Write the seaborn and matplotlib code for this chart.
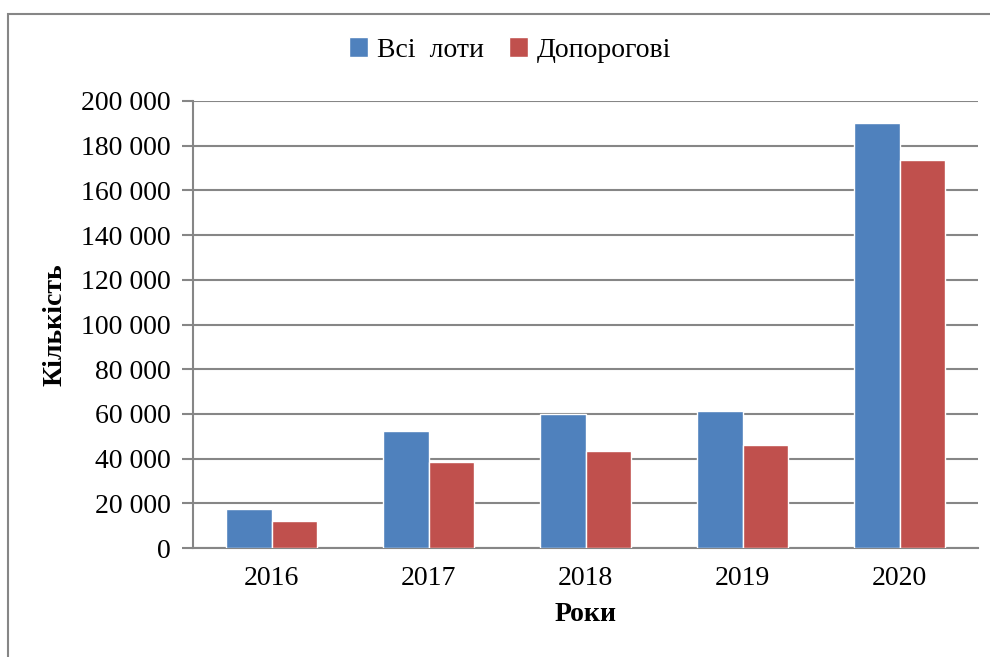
"""
Bar chart: all lots vs below-threshold lots per year
"""
import pandas as pd
import matplotlib
matplotlib.use("Agg")
import matplotlib.pyplot as plt
from matplotlib.patches import Rectangle
from matplotlib.ticker import FuncFormatter, FixedLocator
import seaborn as sns

years = ["2016", "2017", "2018", "2019", "2020"]
all_lots = [17300, 52200, 59800, 61400, 190000]
below_threshold = [12100, 38300, 43300, 45900, 173500]
series_names = ["Всі  лоти", "Допорогові"]
colors = ["#4F81BD", "#C0504D"]
y_ticks = list(range(0, 200001, 20000))


def thousands(value, _):
    return f"{int(value):,}".replace(",", " ")


df = pd.DataFrame({
    "year": years * 2,
    "count": all_lots + below_threshold,
    "series": [series_names[0]] * len(years) + [series_names[1]] * len(years),
})

sns.set_style("white")
plt.rcParams["font.family"] = ["Liberation Serif", "DejaVu Serif"]
plt.rcParams["text.color"] = "black"
plt.rcParams["axes.labelcolor"] = "black"
grid_color = "#868686"
fs = 20

fig = plt.figure(figsize=(9.9, 6.57), dpi=100)
ax = fig.add_axes([193 / 990, 1 - 548 / 657, 785 / 990, 447 / 657])

sns.barplot(df, x="year", y="count", hue="series", palette=colors,
            width=0.575, saturation=1, ax=ax, zorder=3)

ax.set_ylim(0, 200000)
ax.set_xlim(-0.5, len(years) - 0.5)
ax.yaxis.set_major_locator(FixedLocator(y_ticks))
ax.yaxis.set_major_formatter(FuncFormatter(thousands))
ax.grid(axis="y", color=grid_color, linewidth=1.5, zorder=0)
ax.set_axisbelow(True)

# tick marks between categories, labels centred
ax.set_xticks([i - 0.5 for i in range(len(years) + 1)], minor=True)
ax.tick_params(axis="x", which="major", length=0, pad=13, labelsize=fs,
               labelcolor="black")
ax.tick_params(axis="x", which="minor", length=8, width=1.5, color=grid_color,
               direction="out")
ax.tick_params(axis="y", length=8, width=1.5, color=grid_color,
               direction="out", pad=8, labelsize=fs, left=True,
               labelcolor="black")

for side in ["top", "right"]:
    ax.spines[side].set_visible(False)
for side in ["left", "bottom"]:
    ax.spines[side].set_color(grid_color)
    ax.spines[side].set_linewidth(1.5)

ax.set_xlabel("Роки", fontsize=fs, fontweight="bold", labelpad=8)
ax.set_ylabel("Кількість", fontsize=fs, fontweight="bold", labelpad=10)

ax.legend(loc="center", bbox_to_anchor=(510 / 990, 1 - 50 / 657),
          bbox_transform=fig.transFigure, ncol=2, frameon=False,
          fontsize=fs, handlelength=0.7, handleheight=0.7,
          handletextpad=0.3, columnspacing=0.9)

# outer chart frame (cut off on the right and bottom)
fig.patches.append(Rectangle((8 / 990, -0.05), 1.0, 1 - 14 / 657 + 0.05,
                             transform=fig.transFigure, fill=False,
                             edgecolor=grid_color, linewidth=1.5))

fig.savefig("out.png", dpi=100)
